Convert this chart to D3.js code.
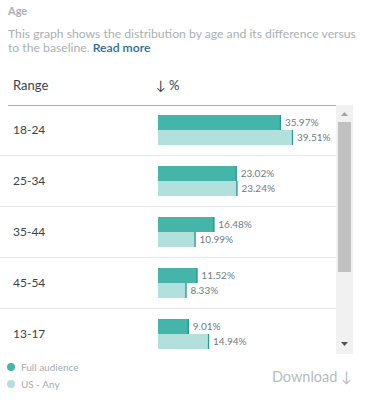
<!DOCTYPE html>
<html>
<head>
<meta charset="utf-8">
<script src="https://cdn.jsdelivr.net/npm/d3@7"></script>
<style>
  body { margin: 0; background: #fff; }
  text { font-family: Lato, "Open Sans", sans-serif; }
</style>
</head>
<body>
<svg class="chart" width="366" height="401"></svg>
<script>
"use strict";

// data
const ranges = ["18-24", "25-34", "35-44", "45-54", "13-17"];
const fullAudience = [35.97, 23.02, 16.48, 11.52, 9.01];
const baseline = [39.51, 23.24, 10.99, 8.33, 14.94];
const seriesNames = ["Full audience", "US - Any"];
const colors = ["#45b5aa", "#b2e0dc"];

const svg = d3.select(".chart");

// header texts
svg.append("text").attr("x", 8).attr("y", 15)
  .attr("font-size", 11).attr("font-weight", 700).attr("fill", "#a9aeb2").text("Age");
svg.append("text").attr("x", 8).attr("y", 38)
  .attr("font-size", 12.2).attr("fill", "#a9b0b4")
  .text("This graph shows the distribution by age and its difference versus");
const l2 = svg.append("text").attr("x", 8).attr("y", 52)
  .attr("font-size", 12.2).attr("fill", "#a9b0b4");
l2.append("tspan").text("to the baseline. ");
l2.append("tspan").attr("fill", "#2a6a97").attr("font-weight", 600).text(" Read more");

svg.append("text").attr("x", 13).attr("y", 90)
  .attr("font-size", 13).attr("fill", "#3c4247").text("Range");
svg.append("text").attr("x", 156).attr("y", 90)
  .attr("font-size", 13).attr("fill", "#3c4247").text("\u2193 %");

svg.append("line").attr("x1", 8).attr("x2", 336).attr("y1", 105.5).attr("y2", 105.5)
  .attr("stroke", "#a7adb1").attr("stroke-width", 1);

// scroll area
svg.append("defs").append("clipPath").attr("id", "clip")
  .append("rect").attr("x", 0).attr("y", 106).attr("width", 336).attr("height", 248);

const body = svg.append("g").attr("clip-path", "url(#clip)");

const y = d3.scaleBand().domain(ranges).range([105, 105 + 51 * ranges.length]);
const x = d3.scaleLinear()
  .domain([0, d3.max(fullAudience.concat(baseline))])
  .range([0, 135]);
const x0 = 158;

const rows = body.selectAll("g.row")
  .data(ranges)
  .enter()
  .append("g")
  .attr("class", "row")
  .attr("transform", (d) => `translate(0, ${y(d)})`);

rows.append("line")
  .attr("x1", 0).attr("x2", 336).attr("y1", 50.5).attr("y2", 50.5)
  .attr("stroke", "#e6e8e9");

rows.append("text").attr("x", 13).attr("y", 29)
  .attr("font-size", 12).attr("fill", "#3c4247").text((d) => d);

[fullAudience, baseline].forEach((vals, s) => {
  const top = 10 + s * 15;
  rows.append("rect")
    .attr("x", x0).attr("y", top)
    .attr("width", (d, i) => x(vals[i])).attr("height", 15)
    .attr("fill", colors[s]);
  rows.append("line")
    .attr("x1", (d, i) => x0 + x(vals[i]) - 0.5)
    .attr("x2", (d, i) => x0 + x(vals[i]) - 0.5)
    .attr("y1", top).attr("y2", top + 15)
    .attr("stroke", "#2c978c").attr("stroke-width", 1.3);
  rows.append("text")
    .attr("x", (d, i) => x0 + x(vals[i]) + 4)
    .attr("y", top + 11)
    .attr("font-size", 10).attr("fill", "#6f7c82")
    .text((d, i) => vals[i].toFixed(2) + "%");
});

// scrollbar
svg.append("rect").attr("x", 336).attr("y", 105).attr("width", 17).attr("height", 249)
  .attr("fill", "#f1f1f1");
svg.append("rect").attr("x", 338).attr("y", 122).attr("width", 13).attr("height", 150)
  .attr("fill", "#c1c1c1");
svg.append("path").attr("d", "M341,116 L348,116 L344.5,112 Z").attr("fill", "#a3a3a3");
svg.append("path").attr("d", "M341,342 L348,342 L344.5,346 Z").attr("fill", "#505050");

// legend
const legend = svg.selectAll("g.legend")
  .data(seriesNames)
  .enter()
  .append("g")
  .attr("class", "legend")
  .attr("transform", (d, i) => `translate(11, ${367 + i * 17})`);
legend.append("circle").attr("r", 4).attr("fill", (d, i) => colors[i]);
legend.append("text").attr("x", 10).attr("y", 3.5)
  .attr("font-size", 10).attr("fill", "#a4abaf").text((d) => d);

svg.append("text").attr("x", 352).attr("y", 382).attr("text-anchor", "end")
  .attr("font-size", 14.5).attr("fill", "#b3bcc1").text("Download \u2193");
</script>
</body>
</html>
